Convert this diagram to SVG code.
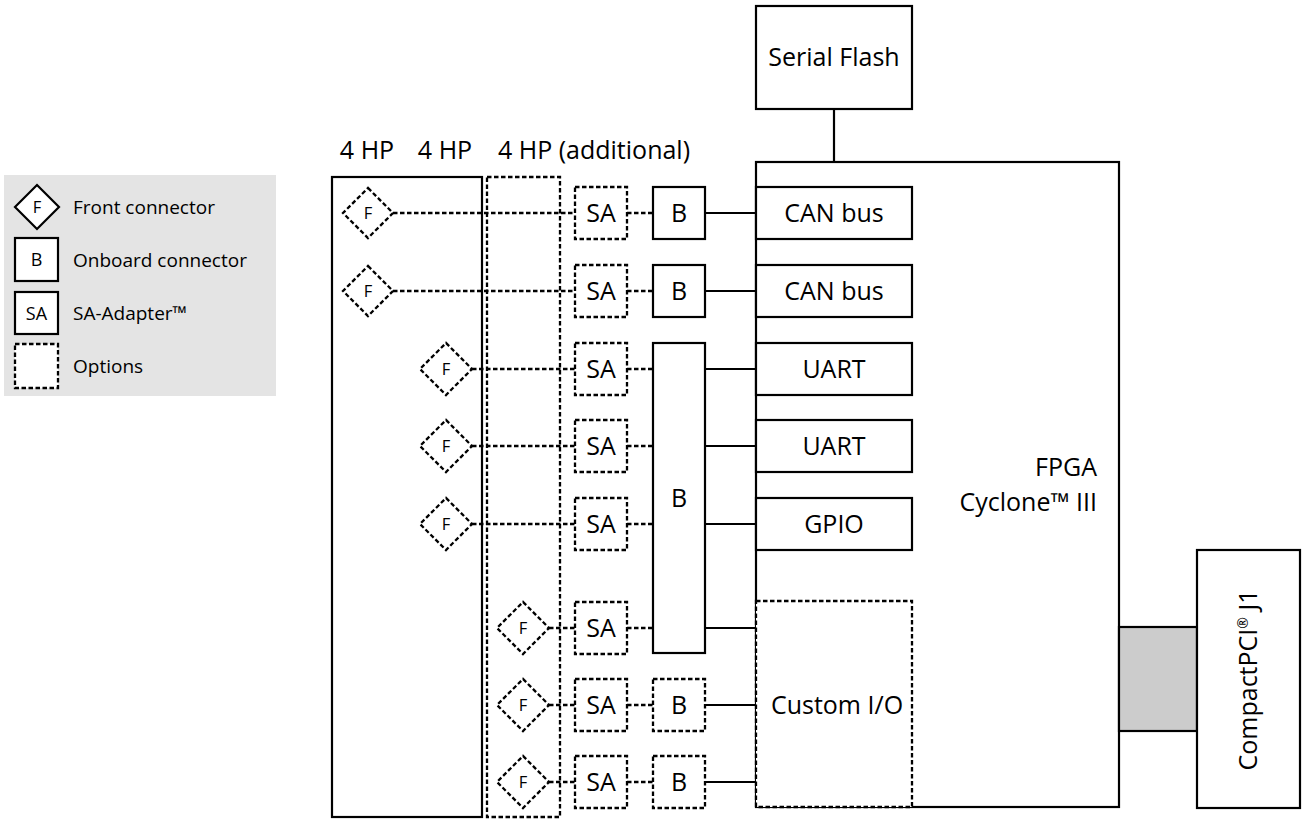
<svg xmlns="http://www.w3.org/2000/svg" width="1302" height="819" viewBox="0 0 1302 819">
<style>
.s{fill:#fff;stroke:#000;stroke-width:2.2}
.d{fill:#fff;stroke:#000;stroke-width:2.3;stroke-dasharray:4.5 2.5}
.dn{fill:none;stroke:#000;stroke-width:2.3;stroke-dasharray:4.5 2.5}
.ln{fill:none;stroke:#000;stroke-width:2.2}
text{font-family:"Open Sans","Noto Sans",sans-serif;fill:#000}
.t{font-size:25px;text-anchor:middle}
.f{font-size:16.5px;text-anchor:middle}
.lg{font-size:19px}
.lb{font-size:18px;text-anchor:middle}
</style>
<rect width="1302" height="819" fill="#fff"/>
<g id="legend">
<rect x="4" y="175" width="272" height="221" fill="#e4e4e4"/>
<polygon class="s" points="37,185 59,207 37,229 15,207"/>
<text class="f" x="37" y="213">F</text>
<text class="lg" x="73" y="214">Front connector</text>
<rect class="s" x="15" y="238" width="43" height="43"/>
<text class="lb" x="36.5" y="266">B</text>
<text class="lg" x="73" y="267">Onboard connector</text>
<rect class="s" x="15" y="292" width="43" height="42"/>
<text class="lb" x="36.5" y="319.5">SA</text>
<text class="lg" x="73" y="320">SA-Adapter™</text>
<rect class="d" x="15" y="344" width="43" height="44"/>
<text class="lg" x="73" y="373">Options</text>
</g>
<g id="headers">
<text class="t" x="367" y="159">4 HP</text>
<text class="t" x="445" y="159">4 HP</text>
<text class="t" x="594" y="159">4 HP (additional)</text>
</g>
<g id="panel1"><rect class="s" x="332" y="177" width="150" height="640"/></g>
<g id="panel2"><rect class="d" x="487" y="177" width="73" height="640"/></g>
<g id="serial-flash"><rect class="s" x="756" y="6" width="156" height="103"/><text class="t" x="834" y="66">Serial Flash</text></g>
<g id="fpga"><rect class="s" x="756" y="162" width="363" height="645"/>
<text x="1097" y="476" style="font-size:25px;text-anchor:end">FPGA</text>
<text x="1097" y="511" style="font-size:25px;text-anchor:end">Cyclone™ III</text></g>
<g id="can1"><rect class="s" x="756" y="187" width="156" height="52"/><text class="t" x="834" y="222">CAN bus</text></g>
<g id="can2"><rect class="s" x="756" y="265" width="156" height="52"/><text class="t" x="834" y="300">CAN bus</text></g>
<g id="uart1"><rect class="s" x="756" y="343" width="156" height="52"/><text class="t" x="834" y="378">UART</text></g>
<g id="uart2"><rect class="s" x="756" y="420" width="156" height="52"/><text class="t" x="834" y="455">UART</text></g>
<g id="gpio"><rect class="s" x="756" y="498" width="156" height="52"/><text class="t" x="834" y="533">GPIO</text></g>
<g id="custom-io"><rect class="d" x="756" y="601" width="156" height="206"/><text class="t" x="837" y="714">Custom I/O</text></g>
<g id="cpci-conn"><rect x="1119" y="627" width="78" height="104" fill="#cccccc" stroke="#000" stroke-width="2.2"/></g>
<g id="cpci"><rect class="s" x="1197" y="550" width="103" height="258"/>
<text class="t" transform="translate(1257 680) rotate(-90)">CompactPCI<tspan style="font-size:14px" dy="-9">®</tspan><tspan dy="9"> J1</tspan></text></g>
<g id="connectors">
<line class="ln" x1="834" y1="109" x2="834" y2="162"/>
<line class="ln" x1="705" y1="213" x2="756" y2="213"/>
<line class="ln" x1="705" y1="291" x2="756" y2="291"/>
<line class="ln" x1="705" y1="369" x2="756" y2="369"/>
<line class="ln" x1="705" y1="446" x2="756" y2="446"/>
<line class="ln" x1="705" y1="524" x2="756" y2="524"/>
<line class="ln" x1="705" y1="628" x2="756" y2="628"/>
<line class="ln" x1="705" y1="705" x2="756" y2="705"/>
<line class="ln" x1="705" y1="782" x2="756" y2="782"/>
<line class="dn" x1="393" y1="213" x2="575" y2="213"/>
<line class="dn" x1="393" y1="291" x2="575" y2="291"/>
<line class="dn" x1="472" y1="369" x2="575" y2="369"/>
<line class="dn" x1="472" y1="446" x2="575" y2="446"/>
<line class="dn" x1="472" y1="524" x2="575" y2="524"/>
<line class="dn" x1="549" y1="628" x2="575" y2="628"/>
<line class="dn" x1="549" y1="705" x2="575" y2="705"/>
<line class="dn" x1="549" y1="782" x2="575" y2="782"/>
<line class="dn" x1="627" y1="213" x2="653" y2="213"/>
<line class="dn" x1="627" y1="291" x2="653" y2="291"/>
<line class="dn" x1="627" y1="369" x2="653" y2="369"/>
<line class="dn" x1="627" y1="446" x2="653" y2="446"/>
<line class="dn" x1="627" y1="524" x2="653" y2="524"/>
<line class="dn" x1="627" y1="628" x2="653" y2="628"/>
<line class="dn" x1="627" y1="705" x2="653" y2="705"/>
<line class="dn" x1="627" y1="782" x2="653" y2="782"/>
</g>
<g id="f1"><polygon class="d" points="368,188 393,213 368,238 343,213"/><text class="f" x="368" y="219">F</text></g>
<g id="f2"><polygon class="d" points="368,266 393,291 368,316 343,291"/><text class="f" x="368" y="297">F</text></g>
<g id="f3"><polygon class="d" points="446,343 472,369 446,395 420,369"/><text class="f" x="446" y="375">F</text></g>
<g id="f4"><polygon class="d" points="446,420 472,446 446,472 420,446"/><text class="f" x="446" y="452">F</text></g>
<g id="f5"><polygon class="d" points="446,498 472,524 446,550 420,524"/><text class="f" x="446" y="530">F</text></g>
<g id="f6"><polygon class="d" points="523,602 549,628 523,654 497,628"/><text class="f" x="523" y="634">F</text></g>
<g id="f7"><polygon class="d" points="523,679 549,705 523,731 497,705"/><text class="f" x="523" y="711">F</text></g>
<g id="f8"><polygon class="d" points="523,756 549,782 523,808 497,782"/><text class="f" x="523" y="788">F</text></g>
<g id="sa1"><rect class="d" x="575" y="187" width="52" height="52"/><text class="t" x="601" y="222">SA</text></g>
<g id="sa2"><rect class="d" x="575" y="265" width="52" height="52"/><text class="t" x="601" y="300">SA</text></g>
<g id="sa3"><rect class="d" x="575" y="343" width="52" height="52"/><text class="t" x="601" y="378">SA</text></g>
<g id="sa4"><rect class="d" x="575" y="420" width="52" height="52"/><text class="t" x="601" y="455">SA</text></g>
<g id="sa5"><rect class="d" x="575" y="498" width="52" height="52"/><text class="t" x="601" y="533">SA</text></g>
<g id="sa6"><rect class="d" x="575" y="602" width="52" height="52"/><text class="t" x="601" y="637">SA</text></g>
<g id="sa7"><rect class="d" x="575" y="679" width="52" height="52"/><text class="t" x="601" y="714">SA</text></g>
<g id="sa8"><rect class="d" x="575" y="756" width="52" height="52"/><text class="t" x="601" y="791">SA</text></g>
<g id="b1"><rect class="s" x="653" y="187" width="52" height="52"/><text class="t" x="679" y="222">B</text></g>
<g id="b2"><rect class="s" x="653" y="265" width="52" height="52"/><text class="t" x="679" y="300">B</text></g>
<g id="b-big"><rect class="s" x="653" y="343" width="52" height="310"/><text class="t" x="679" y="507">B</text></g>
<g id="b7"><rect class="d" x="653" y="679" width="52" height="52"/><text class="t" x="679" y="714">B</text></g>
<g id="b8"><rect class="d" x="653" y="756" width="52" height="52"/><text class="t" x="679" y="791">B</text></g>
</svg>
